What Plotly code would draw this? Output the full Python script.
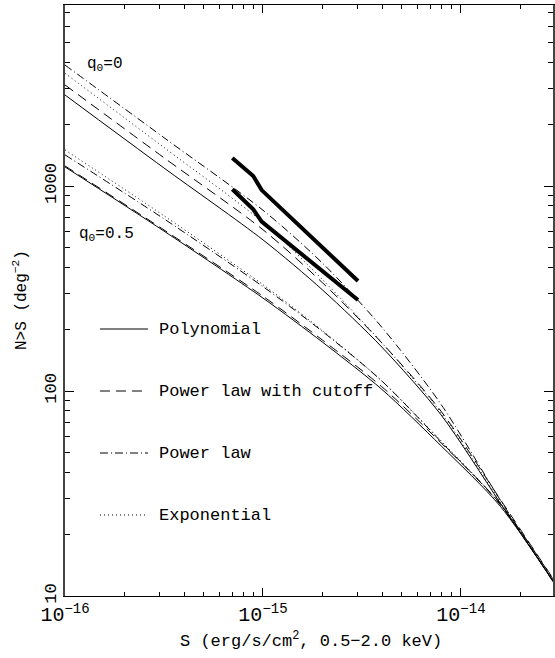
import plotly.graph_objects as go

# Flux grid (erg/s/cm^2, 0.5-2.0 keV)
flux = [1.0e-16, 3.16e-16, 1.0e-15, 2.0e-15, 3.98e-15, 7.94e-15, 1.58e-14, 3.0e-14]

# q0 = 0 models, N(>S) in deg^-2
q0_0_polynomial = [2780, 1225, 546, 311, 164, 76.4, 28.4, 11.4]
q0_0_cutoff     = [3112, 1374, 612, 337, 172, 79.6, 29.6, 11.7]
q0_0_powerlaw   = [3890, 1722, 762, 420, 205, 86.0, 29.4, 11.4]
q0_0_exponential = [3548, 1542, 664, 349, 172, 78.2, 28.8, 11.4]

# q0 = 0.5 models
q0_5_polynomial = [1239, 603, 284, 173, 102, 54.0, 27.4, 11.3]
q0_5_cutoff     = [1253, 611, 290, 177, 105, 55.8, 28.2, 11.6]
q0_5_powerlaw   = [1419, 692, 323, 195, 112, 56.5, 27.9, 11.3]
q0_5_exponential = [1500, 716, 330, 197, 112, 57.1, 28.0, 11.3]

# Observed counts (thick lines)
obs_flux = [7.0e-16, 8.93e-16, 9.85e-16, 3.02e-15]
obs_upper = [1371, 1119, 955, 344]
obs_lower = [964, 769, 670, 278]

model_names = ["Polynomial", "Power law with cutoff", "Power law", "Exponential"]
model_dash = {"Polynomial": "solid",
              "Power law with cutoff": "10px,6px",
              "Power law": "8px,3px,1px,3px",
              "Exponential": "1px,3px"}

FONT = "Liberation Mono"

fig = go.Figure()

groups = [
    [q0_0_polynomial, q0_0_cutoff, q0_0_powerlaw, q0_0_exponential],
    [q0_5_polynomial, q0_5_cutoff, q0_5_powerlaw, q0_5_exponential],
]
for gi, grp in enumerate(groups):
    for name, vals in zip(model_names, grp):
        fig.add_trace(go.Scatter(
            x=flux, y=vals, mode="lines", name=name,
            line=dict(color="black", width=1, dash=model_dash[name],
                      shape="spline", smoothing=0.8),
            showlegend=False, hoverinfo="skip"))

for vals in (obs_upper, obs_lower):
    fig.add_trace(go.Scatter(
        x=obs_flux, y=vals, mode="lines",
        line=dict(color="black", width=4),
        showlegend=False, hoverinfo="skip"))

# Plot-area geometry (pixels) used for paper-coordinate placement of texts
L, R, T, B = 65, 553, 5, 596
W, H = R - L, B - T
def px(xp):
    return (xp - L) / W
def py(yp):
    return (B - yp) / H

legend_y = [329, 391, 453, 515]
for name, yy in zip(model_names, legend_y):
    fig.add_shape(type="line", xref="paper", yref="paper",
                  x0=px(100), x1=px(148), y0=py(yy), y1=py(yy),
                  line=dict(color="black", width=1, dash=model_dash[name]))
    fig.add_annotation(xref="paper", yref="paper", x=px(157), y=py(yy),
                       text=name, showarrow=False, xanchor="left",
                       yanchor="middle", font=dict(family=FONT, size=17, color="black"))

fig.add_annotation(xref="paper", yref="paper", x=px(85), y=py(65),
                   text="q<sub>0</sub>=0", showarrow=False, xanchor="left",
                   yanchor="middle", font=dict(family=FONT, size=16, color="black"))
fig.add_annotation(xref="paper", yref="paper", x=px(77), y=py(234),
                   text="q<sub>0</sub>=0.5", showarrow=False, xanchor="left",
                   yanchor="middle", font=dict(family=FONT, size=16, color="black"))

# Axis titles
fig.add_annotation(xref="paper", yref="paper", x=px(311), y=py(640),
                   text="S (erg/s/cm<sup>2</sup>, 0.5\u22122.0 keV)", showarrow=False,
                   xanchor="center", yanchor="middle",
                   font=dict(family=FONT, size=17, color="black"))
fig.add_annotation(xref="paper", yref="paper", x=px(20), y=py(300),
                   text="N>S (deg<sup>\u22122</sup>)", showarrow=False, textangle=-90,
                   xanchor="center", yanchor="middle",
                   font=dict(family=FONT, size=16, color="black"))

fig.update_xaxes(
    type="log", range=[-16, -13.535], automargin=False,
    tickvals=[1e-16, 1e-15, 1e-14],
    ticktext=["10<sup>\u221216</sup>", "10<sup>\u221215</sup>", "10<sup>\u221214</sup>"],
    ticks="inside", ticklen=8, tickwidth=1, tickcolor="black",
    minor=dict(ticks="inside", ticklen=4, tickcolor="black", dtick="D1", showgrid=False),
    showline=True, linecolor="black", linewidth=1, mirror="allticks",
    showgrid=False, zeroline=False,
    tickfont=dict(family=FONT, size=20, color="black"),
)
fig.update_yaxes(
    type="log", range=[1, 3.883], automargin=False,
    tickvals=[10, 100, 1000], ticktext=["10", "100", "1000"],
    tickangle=-90,
    ticks="inside", ticklen=9, tickwidth=1, tickcolor="black",
    minor=dict(ticks="inside", ticklen=5, tickcolor="black", dtick="D1", showgrid=False),
    showline=True, linecolor="#444444", linewidth=1.5, mirror="allticks",
    showgrid=False, zeroline=False,
    tickfont=dict(family=FONT, size=17, color="black"),
)

fig.update_layout(
    width=555, height=658,
    margin=dict(l=L, r=555 - R, t=T, b=658 - B, autoexpand=False),
    paper_bgcolor="white", plot_bgcolor="white",
    showlegend=False,
)

fig.write_html("out.html",
               config={"displayModeBar": False},
               post_script="document.body.style.margin='0';document.body.style.overflow='hidden';")
